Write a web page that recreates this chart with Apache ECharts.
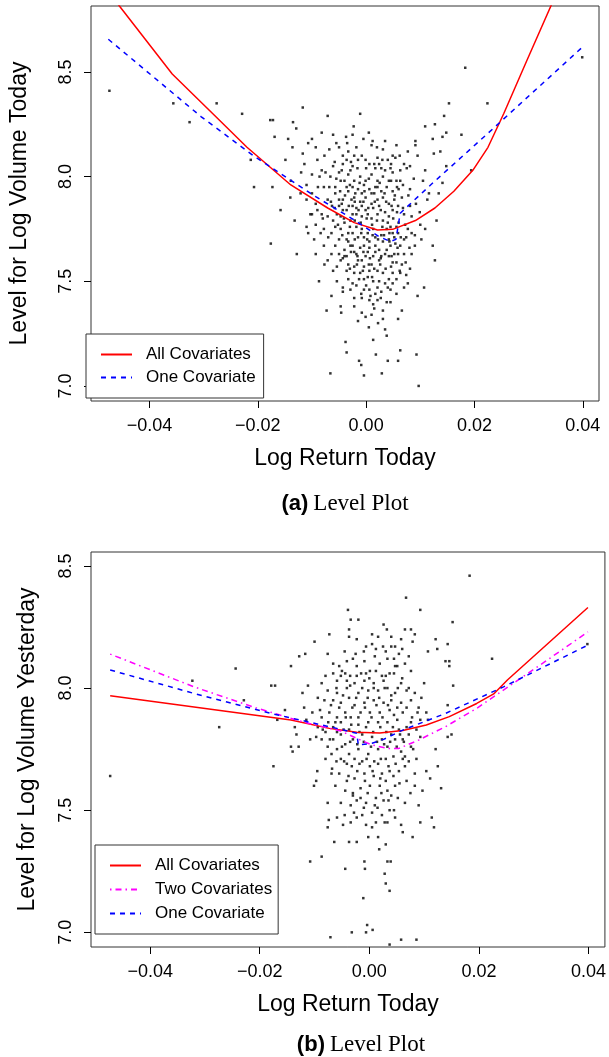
<!DOCTYPE html>
<html>
<head>
<meta charset="utf-8">
<script src="https://cdn.jsdelivr.net/npm/echarts@6/dist/echarts.min.js"></script>
<style>
  html, body { margin: 0; padding: 0; background: #fff; }
  #main { width: 609px; height: 1057px; }
</style>
</head>
<body>
<div id="main"></div>
<script>
// tick labels
var xTicks = [-0.04, -0.02, 0, 0.02, 0.04];
var yTicks = [7.0, 7.5, 8.0, 8.5];

// (a) log return today vs level for log volume today
var pointsA = [
  [-0.0474,8.41],[-0.0356,8.35],[-0.0326,8.26],[-0.0276,8.35],[-0.0229,8.30],[-0.0213,8.08],[-0.0207,7.95],
  [-0.0177,8.27],[-0.0172,8.27],[-0.0169,8.19],[-0.0173,7.95],[-0.0176,7.68],[-0.0158,7.84],[-0.0144,8.18],
  [-0.0136,8.14],[-0.0135,8.26],[-0.0129,8.23],[-0.0117,8.33],[-0.0128,7.63],[-0.0132,7.79],[-0.0140,7.90],
  [-0.0149,8.08],[-0.0139,7.98],[-0.0117,8.11],[-0.0114,8.06],[-0.0107,8.16],[-0.0100,8.18],[-0.0093,8.14],
  [-0.0110,7.76],[-0.0103,7.82],[-0.0096,7.70],[-0.0087,7.50],[-0.0082,8.21],[-0.0071,8.29],[-0.0061,8.20],
  [-0.0066,7.06],[-0.0073,7.36],[-0.0077,7.58],[-0.0064,7.43],[-0.0047,7.38],[-0.0046,7.35],[-0.0038,7.21],
  [-0.0036,7.16],[-0.0011,8.30],[-0.0023,8.24],[-0.0037,8.19],[-0.0018,8.14],[-0.0009,7.10],[-0.0013,7.12],
  [-0.0004,7.05],[0.0013,7.22],[0.0018,7.15],[0.0029,7.06],[0.0040,7.12],[0.0059,7.12],[0.0063,7.17],
  [0.0093,7.15],[0.0097,7.00],[0.0095,7.43],[0.0107,7.47],[0.0077,7.49],[0.0081,7.56],[0.0066,7.36],
  [0.0059,7.32],[0.0038,7.24],[0.0031,7.32],[0.0010,7.34],[-0.0001,7.33],[-0.0008,7.42],[-0.0022,7.42],
  [0.0038,7.40],[0.0045,7.46],[0.0123,7.67],[0.0127,7.60],[0.0130,7.79],[0.0109,7.75],[0.0102,7.70],
  [0.0084,7.63],[0.0090,7.67],[0.0099,7.83],[0.0113,7.89],[0.0116,7.92],[0.0134,7.92],[0.0141,7.97],
  [0.0148,8.05],[0.0153,8.35],[0.0144,8.29],[0.0148,8.21],[0.0141,8.19],[0.0127,8.25],[0.0109,8.24],
  [0.0123,8.18],[0.0125,8.11],[0.0137,8.12],[0.0176,8.20],[0.0183,8.52],[0.0194,8.03],[0.0224,8.35],
  [0.0399,8.57],[0.0091,8.17],[0.0091,8.15],[0.0095,8.10],[0.0077,8.12],[0.0081,8.05],[0.0070,8.06],
  [0.0056,8.15],[0.0054,8.09],[0.0063,7.98],[0.0081,7.94],[0.0088,7.99],[0.0109,8.03],[0.0105,7.98],
  [0.0012,8.17],[0.0010,8.15],[0.0028,8.04],[0.0040,8.08],[0.0021,8.09],[0.0045,8.04],[-0.0008,8.10],
  [-0.0016,8.04],[-0.0036,8.08],[-0.0025,8.05],[-0.0050,8.02],[-0.0043,8.06],[-0.0061,8.05],[-0.0077,8.10],
  [-0.0075,8.02],[-0.0086,8.00],[-0.0089,7.95],[-0.0068,7.95],[-0.0057,7.92],[-0.0063,7.86],[-0.0071,7.81],
  [-0.0078,7.75],[-0.0064,7.73],[-0.0057,7.67],[-0.0064,7.63],[-0.0050,7.63],[-0.0054,7.57],[-0.0043,7.61],
  [-0.0036,7.55],[-0.0033,7.51],[-0.0043,7.47],[-0.0029,7.46],[-0.0018,7.48],[-0.0011,7.54],[-0.0004,7.57],
  [0.0003,7.52],[0.0013,7.50],[0.0021,7.47],[0.0006,7.46],[0.0017,7.44],[0.0028,7.45],[0.0042,7.51],
  [0.0049,7.54],[0.0056,7.59],[0.0066,7.58],[0.0052,7.63],[0.0063,7.67],[0.0070,7.63],[0.0045,7.67],
  [0.0035,7.63],[0.0024,7.60],[0.0010,7.58],[-0.0001,7.62],[-0.0015,7.60],[-0.0022,7.64],[-0.0029,7.67],
  [-0.0036,7.70],[-0.0025,7.73],[-0.0015,7.71],[-0.0004,7.67],[0.0006,7.66],[0.0017,7.67],[0.0024,7.65],
  [0.0031,7.69],[0.0042,7.70],[0.0049,7.73],[0.0056,7.76],[0.0038,7.75],[0.0028,7.72],[0.0013,7.75],
  [0.0003,7.73],[-0.0008,7.75],[-0.0018,7.76],[-0.0029,7.79],[-0.0040,7.78],[-0.0047,7.81],[-0.0036,7.84],
  [-0.0025,7.86],[-0.0018,7.82],[-0.0008,7.81],[-0.0001,7.84],[0.0010,7.80],[0.0021,7.82],[0.0031,7.79],
  [0.0042,7.81],[0.0049,7.84],[0.0059,7.86],[0.0052,7.89],[0.0042,7.87],[0.0031,7.90],[0.0021,7.89],
  [0.0010,7.87],[-0.0001,7.90],[-0.0011,7.88],[-0.0022,7.90],[-0.0033,7.93],[-0.0043,7.89],[-0.0050,7.86],
  [-0.0025,7.95],[-0.0015,7.94],[-0.0004,7.96],[0.0006,7.94],[0.0017,7.95],[0.0028,7.93],[0.0038,7.95],
  [0.0049,7.93],[0.0057,7.95],[0.0042,7.98],[0.0031,8.00],[0.0021,7.98],[0.0010,8.01],[-0.0001,7.98],
  [-0.0011,8.00],[-0.0022,7.98],[-0.0033,8.01],[-0.0040,7.98],[-0.0029,8.03],[0.0077,7.75],[0.0074,7.71],
  [0.0084,7.73],[0.0070,7.82],[0.0081,7.86],[0.0066,7.90],[0.0063,8.03],[0.0049,8.10],[0.0031,8.13],
  [0.0084,7.81],[0.0021,7.55],[0.0031,7.54],[0.0006,7.55],[-0.0022,7.54],[-0.0033,7.58],[-0.0050,7.70],
  [-0.0047,7.75],[-0.0057,7.76],[-0.0061,7.79],[-0.0054,7.82],[-0.0043,7.84],[-0.0050,7.89],[-0.0057,7.95],
  [-0.0047,7.98],[-0.0036,7.95],[-0.0027,7.89],[-0.0018,7.85],[-0.0008,7.86],[0.0003,7.82],[0.0013,7.85],
  [0.0024,7.86],[0.0035,7.83],[0.0045,7.76],[0.0052,7.71],[0.0059,7.73],[0.0017,7.71],[0.0006,7.69],
  [-0.0004,7.71],[-0.0011,7.66],[-0.0018,7.63],[-0.0008,7.60],[0.0003,7.64],[0.0013,7.62],[0.0028,7.62],
  [0.0042,7.62],[0.0049,7.59],[0.0059,7.63],[0.0070,7.70],[0.0043,7.73],[0.0010,7.92],[0.0021,7.95],
  [-0.0008,7.92],[-0.0025,7.82],[-0.0033,7.73],[-0.0025,7.67],[-0.0040,7.65],[-0.0047,7.60],[-0.0036,7.62],
  [-0.0022,7.57],[-0.0004,7.51],[0.0021,7.41],[0.0006,7.41],[-0.0004,7.46],[0.0035,7.49],[0.0049,7.49],
  [0.0056,7.51],[0.0063,7.54],[0.0074,7.53],[-0.0100,7.92],[-0.0093,7.87],[-0.0082,7.82],[-0.0093,7.77],
  [-0.0084,7.73],[-0.0071,7.89],[-0.0078,7.95],[-0.0082,8.03],[-0.0068,8.13],[-0.0050,8.14],[-0.0043,8.10],
  [-0.0033,8.12],[-0.0022,8.10],[-0.0001,8.08],[0.0006,8.06],[0.0017,8.04],[0.0024,8.06],[0.0035,8.03],
  [0.0049,8.02],[0.0056,7.98],[-0.0110,7.89],[-0.0121,7.92],[-0.0120,8.02],[-0.0100,7.82],[-0.0107,7.73],
  [-0.0093,7.63],[-0.0078,7.67],[-0.0071,7.60],[-0.0061,7.55],[-0.0054,7.50],[-0.0043,7.45],[-0.0022,7.38],
  [-0.0008,7.35],[0.0013,7.39],[0.0031,7.36],[0.0045,7.40],[0.0056,7.44],[0.0070,7.47],
  [-0.0055,7.99],[-0.0048,7.93],[-0.0039,7.91],[-0.0030,7.96],[-0.0020,7.92],[-0.0012,7.97],[-0.0003,7.93],
  [0.0005,7.99],[0.0015,7.92],[0.0025,7.97],[0.0034,7.92],[0.0046,7.98],[0.0053,7.91],[0.0060,7.94],
  [-0.0058,7.85],[-0.0045,7.87],[-0.0032,7.86],[-0.0021,7.88],[-0.0014,7.84],[-0.0005,7.88],[0.0004,7.85],
  [0.0016,7.88],[0.0027,7.84],[0.0037,7.88],[0.0047,7.86],[0.0057,7.83],[0.0068,7.85],[-0.0052,7.77],
  [-0.0041,7.80],[-0.0030,7.76],[-0.0021,7.79],[-0.0010,7.78],[0.0001,7.80],[0.0011,7.77],[0.0020,7.79],
  [0.0030,7.76],[0.0040,7.78],[0.0050,7.80],[0.0060,7.78],[0.0072,7.77],[-0.0044,7.72],[-0.0033,7.69],
  [-0.0021,7.70],[-0.0009,7.73],[0.0002,7.70],[0.0012,7.72],[0.0022,7.70],[0.0033,7.72],[0.0043,7.69],
  [0.0054,7.68],[0.0064,7.71],[-0.0040,7.62],[-0.0028,7.64],[-0.0016,7.62],[-0.0005,7.64],[0.0007,7.61],
  [0.0017,7.64],[0.0027,7.61],[0.0038,7.65],[0.0047,7.62],[0.0058,7.66],[-0.0030,7.56],[-0.0017,7.58],
  [-0.0006,7.55],[0.0005,7.58],[0.0015,7.56],[0.0026,7.58],[0.0036,7.56],[0.0046,7.57],[-0.0025,7.49],
  [-0.0013,7.51],[0.0000,7.48],[0.0011,7.52],[0.0024,7.50],[0.0040,7.47],[-0.0009,7.44],[0.0008,7.43],
  [0.0027,7.42],[0.0015,7.37],[-0.0015,7.31],[0.0005,7.28],[0.0022,7.30],[0.0035,7.27],[-0.0065,7.88],
  [-0.0070,7.71],[-0.0080,7.80],[-0.0090,7.84],[-0.0066,8.00],[-0.0058,8.07],[-0.0045,8.03],[-0.0028,8.07],
  [-0.0015,8.08],[0.0000,8.04],[0.0015,8.06],[0.0030,8.08],[0.0046,8.06],[0.0062,8.10],[0.0075,8.04],
  [0.0068,7.96],[0.0078,7.91],[0.0092,7.87],[0.0100,7.77],[0.0090,7.72],[0.0080,7.66],[0.0073,7.59],
  [0.0062,7.55],[-0.0035,8.16],[-0.0025,8.20],[-0.0005,8.18],[0.0005,8.21],[0.0020,8.14],[0.0035,8.17],
  [-0.0055,8.16],[-0.0090,8.08],[-0.0100,8.01],[-0.0110,7.96]
];
var allCovA = [
  [-0.047,8.87],[-0.0457,8.82],[-0.0358,8.49],[-0.0283,8.30],[-0.0220,8.14],[-0.0139,7.96],[-0.0071,7.85],
  [-0.0022,7.78],[0.0021,7.745],[0.0049,7.748],[0.0091,7.79],[0.0127,7.85],[0.0162,7.93],[0.0197,8.03],
  [0.0225,8.14],[0.0254,8.30],[0.0296,8.55],[0.0342,8.82],[0.040,9.16]
];
var oneCovA = [
  [-0.0476,8.656],[-0.0305,8.287],[-0.0206,8.096],[-0.0093,7.904],[-0.0022,7.793],[0.0024,7.713],
  [0.0045,7.69],[0.0055,7.70],[0.0063,7.825],[0.0119,7.96],[0.0225,8.207],[0.0397,8.613]
];

// (b) log return today vs level for log volume yesterday
var pointsB = [
  [-0.0473,7.64],[-0.0274,7.84],[-0.0244,8.08],[-0.0323,8.03],[-0.0229,7.95],[-0.0179,8.01],[-0.0172,8.01],
  [-0.0175,7.68],[-0.0168,7.87],[-0.0154,7.91],[-0.0143,8.09],[-0.0143,7.76],[-0.0140,7.74],[-0.0129,7.76],
  [-0.0136,7.84],[-0.0133,7.81],[-0.0128,8.13],[-0.0117,8.14],[-0.0122,7.98],[-0.0119,7.92],[-0.0108,7.29],
  [-0.0100,8.19],[-0.0087,7.31],[-0.0073,8.22],[-0.0101,7.60],[-0.0097,7.62],[-0.0095,7.66],[-0.0076,7.53],
  [-0.0074,7.46],[-0.0076,7.43],[-0.0071,6.98],[-0.0064,7.37],[-0.0059,7.47],[-0.0048,7.44],[-0.0044,7.26],
  [-0.0039,8.32],[-0.0037,8.24],[-0.0034,8.28],[-0.0020,8.28],[-0.0037,7.37],[-0.0034,7.45],[-0.0032,7.00],
  [-0.0023,7.37],[-0.0011,7.14],[-0.0009,7.29],[-0.0008,7.26],[-0.0006,7.00],[-0.0004,7.03],[0.0006,7.01],
  [-0.0002,7.39],[0.0005,7.43],[0.0016,7.39],[0.0018,7.34],[0.0026,8.26],[0.0032,8.24],[0.0030,7.36],
  [0.0033,7.29],[0.0037,7.17],[0.0030,7.20],[0.0028,7.24],[0.0039,7.29],[0.0037,6.95],[0.0058,6.97],
  [0.0067,8.37],[0.0086,6.97],[0.0061,7.41],[0.0058,7.44],[0.0065,8.24],[0.0076,8.24],[0.0079,8.19],
  [0.0083,8.22],[0.0093,8.32],[0.0090,7.52],[0.0093,7.45],[0.0079,7.39],[0.0097,7.58],[0.0083,7.60],
  [0.0086,7.71],[0.0104,7.66],[0.0107,8.15],[0.0111,7.63],[0.0114,7.47],[0.0118,7.43],[0.0121,8.20],
  [0.0124,8.16],[0.0121,7.75],[0.0125,7.68],[0.0131,7.59],[0.0139,8.11],[0.0146,8.11],[0.0146,8.09],
  [0.0143,7.80],[0.0143,8.18],[0.0150,7.81],[0.0153,8.01],[0.0152,8.27],[0.0143,7.93],[0.0224,8.12],
  [0.0183,8.46],[0.0398,8.18],[0.0104,7.90],[0.0107,7.87],[0.0090,7.92],[0.0083,7.98],[0.0068,7.99],
  [0.0058,8.02],[0.0051,8.09],[0.0065,8.10],[0.0076,8.07],[0.0058,8.20],[0.0047,8.17],[0.0040,8.21],
  [0.0016,8.21],[0.0005,8.22],[-0.0006,8.17],[0.0012,8.16],[-0.0041,8.11],[-0.0030,8.12],[-0.0055,8.09],
  [-0.0066,8.06],[-0.0080,8.05],[-0.0087,8.02],[-0.0076,7.99],[-0.0059,8.03],[-0.0044,8.06],[-0.0023,8.09],
  [-0.0009,8.11],[0.0001,8.07],[0.0019,8.10],[0.0033,8.12],[0.0037,8.06],[0.0026,8.03],[0.0008,8.02],
  [-0.0009,8.03],[-0.0027,8.02],[-0.0041,8.00],[-0.0059,7.98],[-0.0066,7.95],[-0.0052,7.94],[-0.0037,7.96],
  [-0.0020,7.98],[-0.0002,7.99],[0.0016,7.99],[0.0033,8.00],[0.0047,7.98],[0.0040,7.95],[0.0026,7.94],
  [0.0008,7.95],[-0.0009,7.94],[-0.0027,7.93],[-0.0044,7.90],[-0.0059,7.88],[-0.0073,7.90],[-0.0087,7.88],
  [-0.0094,7.84],[-0.0080,7.82],[-0.0066,7.84],[-0.0052,7.86],[-0.0034,7.88],[-0.0016,7.90],[0.0001,7.90],
  [0.0019,7.90],[0.0037,7.91],[0.0051,7.92],[0.0061,7.90],[0.0051,7.87],[0.0033,7.86],[0.0016,7.86],
  [-0.0002,7.86],[-0.0020,7.85],[-0.0037,7.83],[-0.0052,7.81],[-0.0066,7.79],[-0.0076,7.76],[-0.0059,7.75],
  [-0.0044,7.77],[-0.0030,7.79],[-0.0013,7.81],[0.0005,7.80],[0.0023,7.79],[0.0040,7.81],[0.0054,7.83],
  [0.0047,7.79],[0.0033,7.76],[0.0016,7.75],[-0.0002,7.73],[-0.0020,7.75],[-0.0037,7.73],[-0.0052,7.71],
  [-0.0041,7.69],[-0.0027,7.71],[-0.0013,7.70],[0.0001,7.68],[0.0016,7.69],[0.0030,7.71],[0.0044,7.72],
  [0.0037,7.66],[0.0023,7.65],[0.0008,7.64],[-0.0009,7.65],[-0.0027,7.63],[-0.0041,7.62],[-0.0055,7.65],
  [-0.0062,7.60],[-0.0044,7.58],[-0.0030,7.57],[-0.0016,7.59],[0.0001,7.60],[0.0019,7.60],[0.0033,7.58],
  [0.0047,7.60],[0.0040,7.56],[0.0026,7.54],[0.0012,7.55],[-0.0006,7.53],[-0.0023,7.54],[-0.0034,7.52],
  [-0.0052,7.53],[-0.0013,7.48],[0.0005,7.49],[0.0023,7.48],[0.0037,7.50],[0.0047,7.47],[0.0033,7.45],
  [0.0012,7.45],[-0.0006,7.44],[-0.0023,7.47],[0.0065,7.53],[0.0068,7.62],[0.0065,7.72],[0.0076,7.76],
  [0.0072,7.81],[0.0061,7.79],[0.0086,7.83],[0.0076,7.86],[0.0068,7.92],[0.0076,7.95],[0.0093,7.87],
  [0.0093,7.80],[0.0083,7.65],[0.0054,7.66],[0.0061,7.71],[0.0047,8.09],[0.0030,8.15],[0.0023,8.05],
  [-0.0006,8.06],[-0.0023,8.05],[-0.0041,8.03],[-0.0052,8.05],[-0.0037,8.21],[-0.0023,8.20],[0.0005,8.18],
  [0.0040,8.17],[0.0054,8.14],[0.0072,8.13],[-0.0059,7.82],[-0.0069,7.73],[-0.0080,7.71],[-0.0069,7.65],
  [-0.0087,7.79],[-0.0097,7.80],[-0.0108,7.79],[-0.0112,8.01],[-0.0094,7.96],[-0.0104,7.90],[-0.0115,7.87],
  [-0.0066,8.10],[-0.0076,8.14],
  [-0.0060,8.00],[-0.0048,7.97],[-0.0035,8.01],[-0.0024,7.96],[-0.0013,8.00],[-0.0003,7.96],[0.0008,8.00],
  [0.0018,7.96],[0.0028,8.00],[0.0040,7.97],[0.0052,8.00],[-0.0055,7.92],[-0.0043,7.88],[-0.0031,7.92],
  [-0.0020,7.88],[-0.0008,7.92],[0.0004,7.88],[0.0013,7.93],[0.0024,7.88],[0.0034,7.93],[0.0045,7.89],
  [0.0058,7.94],[-0.0062,7.86],[-0.0047,7.83],[-0.0033,7.85],[-0.0018,7.82],[-0.0006,7.84],[0.0007,7.82],
  [0.0020,7.84],[0.0031,7.82],[0.0043,7.84],[0.0056,7.81],[0.0068,7.84],[-0.0050,7.76],[-0.0035,7.78],
  [-0.0022,7.77],[-0.0010,7.78],[0.0003,7.76],[0.0014,7.78],[0.0027,7.77],[0.0038,7.78],[0.0050,7.76],
  [0.0063,7.78],[-0.0046,7.70],[-0.0032,7.68],[-0.0018,7.69],[-0.0005,7.71],[0.0009,7.70],[0.0021,7.71],
  [0.0035,7.68],[0.0048,7.69],[0.0058,7.74],[-0.0038,7.64],[-0.0022,7.66],[-0.0008,7.62],[0.0006,7.66],
  [0.0020,7.63],[0.0030,7.62],[0.0044,7.64],[0.0055,7.61],[-0.0030,7.56],[-0.0016,7.55],[-0.0003,7.57],
  [0.0010,7.52],[0.0022,7.57],[0.0035,7.54],[0.0052,7.55],[-0.0028,7.49],[-0.0010,7.51],[0.0015,7.51],
  [0.0028,7.45],[0.0045,7.50],[-0.0045,7.48],[-0.0050,8.07],[-0.0035,8.05],[-0.0015,8.06],[0.0000,8.04],
  [0.0012,8.07],[0.0030,8.05],[0.0045,8.06],[0.0060,8.04],[-0.0045,8.15],[-0.0025,8.14],[-0.0010,8.15],
  [0.0010,8.13],[0.0025,8.17],[0.0045,8.12],[0.0060,8.16],[-0.0070,7.93],[-0.0082,7.95],[-0.0090,7.91],
  [-0.0075,7.86],[-0.0085,7.83],[-0.0072,7.79],[-0.0060,7.70],[-0.0068,7.67],[0.0072,7.70],[0.0080,7.75],
  [0.0078,7.88],[0.0088,7.90],[0.0095,7.96],[0.0100,8.02],[0.0072,8.00],[0.0065,7.68],[0.0075,7.57]
];
var allCovB = [
  [-0.0473,7.969],[-0.0143,7.869],[-0.0073,7.835],[-0.0023,7.819],[0.0019,7.816],[0.0061,7.826],
  [0.0104,7.849],[0.0146,7.883],[0.0196,7.937],[0.0227,7.976],[0.0252,8.033],[0.0399,8.33]
];
var twoCovB = [
  [-0.0473,8.139],[-0.032,8.005],[-0.0214,7.924],[-0.0122,7.862],[-0.0052,7.824],[-0.0023,7.794],
  [0.0005,7.767],[0.0033,7.753],[0.0054,7.753],[0.009,7.787],[0.0139,7.842],[0.0196,7.917],
  [0.0231,7.971],[0.0316,8.101],[0.0399,8.23]
];
var oneCovB = [
  [-0.0473,8.074],[-0.032,7.978],[-0.0179,7.896],[-0.0052,7.831],[-0.0023,7.815],[-0.002,7.767],
  [0.0005,7.774],[0.0026,7.79],[0.0061,7.828],[0.0139,7.896],[0.0245,8.005],[0.0399,8.176]
];

var sans = 'Liberation Sans';

function xAxis(idx, name) {
  return {
    type: 'value', gridIndex: idx, min: -0.0508, max: 0.0430,
    name: name, nameLocation: 'middle', nameGap: 46,
    nameTextStyle: { fontFamily: sans, fontSize: 23, color: '#000' },
    axisLine: { show: false, onZero: false },
    splitLine: { show: false },
    axisTick: { show: true, inside: false, length: 7, customValues: xTicks, lineStyle: { color: '#000' } },
    axisLabel: {
      customValues: xTicks, margin: 16, fontFamily: sans, fontSize: 18, color: '#000',
      formatter: function (v) { return (v < 0 ? '\u2212' : '') + Math.abs(v).toFixed(2); }
    }
  };
}
function yAxis(idx, name, min, max, gap) {
  return {
    type: 'value', gridIndex: idx, min: min, max: max,
    name: name, nameLocation: 'middle', nameGap: gap,
    nameTextStyle: { fontFamily: sans, fontSize: 23, color: '#000' },
    axisLine: { show: false, onZero: false },
    splitLine: { show: false },
    axisTick: { show: true, inside: false, length: 7, customValues: yTicks, lineStyle: { color: '#000' } },
    axisLabel: {
      customValues: yTicks, rotate: 90, margin: 16, fontFamily: sans, fontSize: 18, color: '#000',
      formatter: function (v) { return v.toFixed(1); }
    }
  };
}
function dots(idx, data) {
  return {
    type: 'scatter', xAxisIndex: idx, yAxisIndex: idx, data: data,
    symbol: 'rect', symbolSize: 2.5, itemStyle: { color: '#000' }, silent: true, z: 2
  };
}
function curve(idx, name, data, color, dash) {
  return {
    type: 'line', name: name, xAxisIndex: idx, yAxisIndex: idx, data: data,
    symbol: 'none', clip: true, z: 3,
    lineStyle: { color: color, width: 1.5, type: dash },
    itemStyle: { color: color }
  };
}
function legendBox(names, left, top, gap, padRight) {
  return {
    data: names, orient: 'vertical', left: left, top: top, selectedMode: false,
    itemWidth: 31, itemHeight: 14, itemGap: gap,
    padding: [12, padRight, 12, 14],
    borderColor: '#333', borderWidth: 1, backgroundColor: '#fff',
    itemStyle: { opacity: 0 },
    textStyle: { fontFamily: sans, fontSize: 17, color: '#000', padding: [0, 0, 0, 9] }
  };
}
function caption(tag, left, top) {
  return {
    text: '{b|' + tag + '} {s|Level Plot}', left: left, top: top, textAlign: 'center',
    textStyle: { rich: {
      b: { fontFamily: sans, fontWeight: 'bold', fontSize: 22, color: '#000' },
      s: { fontFamily: 'Liberation Serif', fontWeight: 'normal', fontSize: 23, color: '#000' }
    } }
  };
}

var chart = echarts.init(document.getElementById('main'));
chart.setOption({
  animation: false,
  backgroundColor: '#fff',
  grid: [
    { left: 82, top: 6, width: 517, height: 395, show: true, borderColor: '#333', borderWidth: 1 },
    { left: 91, top: 552, width: 517, height: 395, show: true, borderColor: '#333', borderWidth: 1 }
  ],
  xAxis: [xAxis(0, 'Log Return Today'), xAxis(1, 'Log Return Today')],
  yAxis: [
    yAxis(0, 'Level for Log Volume Today', 6.928, 8.815, 60),
    yAxis(1, 'Level for Log Volume Yesterday', 6.940, 8.557, 52)
  ],
  title: [caption('(a)', 340, 487), caption('(b)', 356, 1028)],
  legend: [
    legendBox(['All Covariates', 'One Covariate'], 86, 334, 6, 8),
    legendBox(['All Covariates', 'Two Covariates', 'One Covariate'], 95, 845, 7, 6)
  ],
  series: [
    dots(0, pointsA),
    curve(0, 'All Covariates', allCovA, '#ff0000', 'solid'),
    curve(0, 'One Covariate', oneCovA, '#0000ff', [5, 5]),
    dots(1, pointsB),
    curve(1, 'All Covariates', allCovB, '#ff0000', 'solid'),
    curve(1, 'Two Covariates', twoCovB, '#ff00ff', [1.5, 4, 6, 4]),
    curve(1, 'One Covariate', oneCovB, '#0000ff', [5, 5])
  ]
});
</script>
</body>
</html>
